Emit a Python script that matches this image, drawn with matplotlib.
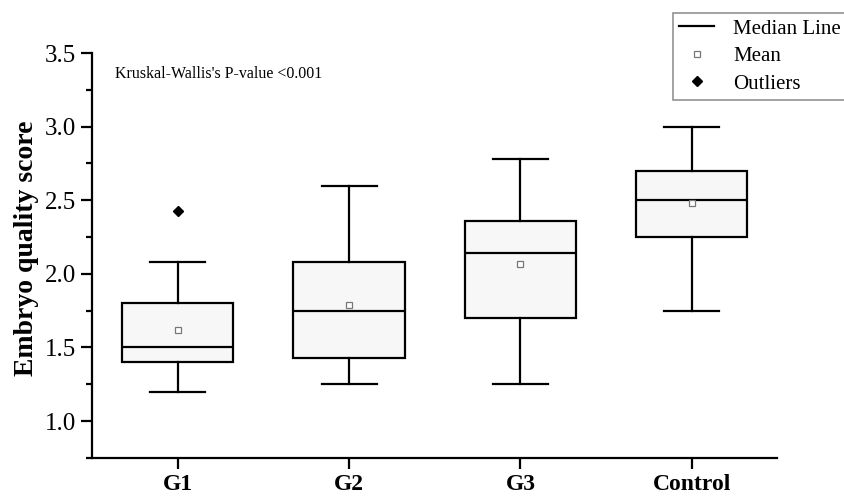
import matplotlib
matplotlib.use("Agg")
import matplotlib.pyplot as plt
from matplotlib.lines import Line2D
from matplotlib.ticker import MultipleLocator

plt.rcParams['font.family'] = ['Liberation Serif', 'DejaVu Serif']

# valores
grupos = ["G1", "G2", "G3", "Control"]
wmin = [1.20, 1.25, 1.25, 1.75]
q1 = [1.40, 1.43, 1.70, 2.25]
mediana = [1.50, 1.75, 2.14, 2.50]
q3 = [1.80, 2.08, 2.36, 2.70]
wmax = [2.08, 2.60, 2.78, 3.00]
media = [1.62, 1.79, 2.07, 2.48]
outliers = [[2.43], [], [], []]

stats = []
for i in range(len(grupos)):
    stats.append(dict(label=grupos[i], whislo=wmin[i], q1=q1[i], med=mediana[i],
                      q3=q3[i], whishi=wmax[i], mean=media[i], fliers=outliers[i]))

fig = plt.figure(figsize=(8.45, 4.96), dpi=100)
ax = fig.add_axes([0.109, 0.077, 0.811, 0.816])

ax.bxp(stats, positions=range(1, 5), widths=0.65, patch_artist=True,
       showmeans=True, showfliers=True,
       boxprops=dict(facecolor="#f7f7f7", edgecolor="black", linewidth=1.6),
       medianprops=dict(color="black", linewidth=1.6),
       whiskerprops=dict(color="black", linewidth=1.6),
       capprops=dict(color="black", linewidth=1.6),
       capwidths=0.32,
       meanprops=dict(marker="s", markerfacecolor="white", markeredgecolor="#777777",
                      markersize=5, markeredgewidth=0.9),
       flierprops=dict(marker="D", markerfacecolor="black", markeredgecolor="black",
                       markersize=5.5))

ax.set_xlim(0.5, 4.5)
ax.set_ylim(0.75, 3.5)
ax.yaxis.set_minor_locator(MultipleLocator(0.25))
ax.set_yticks([1.0, 1.5, 2.0, 2.5, 3.0, 3.5])
ax.set_yticklabels(["1.0", "1.5", "2.0", "2.5", "3.0", "3.5"], fontsize=18)
ax.set_xticks(range(1, 5))
ax.set_xticklabels(grupos, fontsize=17, fontweight="bold")

for s in ["top", "right"]:
    ax.spines[s].set_visible(False)
for s in ["left", "bottom"]:
    ax.spines[s].set_linewidth(1.6)
ax.tick_params(axis="both", which="major", length=8, width=1.6, direction="out")
ax.tick_params(axis="y", which="minor", length=4.5, width=1.6, direction="out")
ax.tick_params(axis="x", which="minor", length=0)

ax.set_ylabel("Embryo quality score", fontsize=20, fontweight="bold")
ax.yaxis.set_label_coords(-0.078, 0.518)

ax.text(0.635, 3.36, "Kruskal-Wallis's P-value <0.001", fontsize=11.5, va="center", ha="left")

handles = [
    Line2D([], [], color="black", linewidth=1.6),
    Line2D([], [], marker="s", linestyle="none", markerfacecolor="white",
           markeredgecolor="#777777", markersize=5, markeredgewidth=0.9),
    Line2D([], [], marker="D", linestyle="none", color="black", markersize=5.5),
]
leg = fig.legend(handles, ["Median Line", "Mean", "Outliers"], loc="upper left",
                 bbox_to_anchor=(0.796, 0.974), borderaxespad=0, fontsize=15,
                 frameon=True, fancybox=False, edgecolor="#777777", handlelength=1.7,
                 borderpad=0.3, labelspacing=0.38, handletextpad=0.9)
leg.get_frame().set_linewidth(1.2)

fig.savefig("out.png", dpi=100)
